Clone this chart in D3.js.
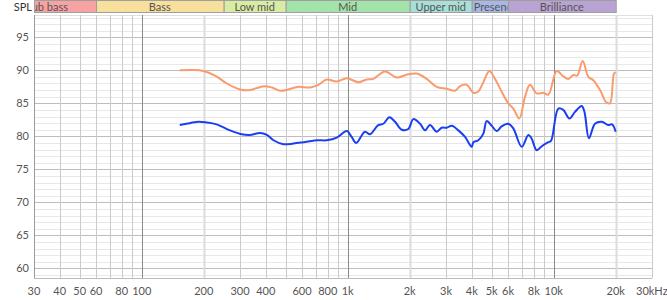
<!DOCTYPE html>
<html>
<head>
<meta charset="UTF-8">
<title>SPL</title>
<script src="https://d3js.org/d3.v7.min.js"></script>
<style>
  body { margin: 0; background: #fff; }
  svg text { font-family: Lato, "Open Sans", sans-serif; }
</style>
</head>
<body>
<div id="chart"></div>
<script>
// frequency bands across the top
const bandNames = ["Sub bass", "Bass", "Low mid", "Mid", "Upper mid", "Presence", "Brilliance"];
const bandEdges = [20, 60, 250, 500, 2000, 4000, 6000, 20000];
const bandColors = ["#f7a3a3", "#f7df9c", "#d9eca3", "#a3e2a8", "#a8e0d8", "#a9b7e6", "#b9a3d3"];

const xTicks = [30, 40, 50, 60, 80, 100, 200, 300, 400, 600, 800, 1000, 2000, 3000, 4000, 5000, 6000, 8000, 10000, 20000, 30000];
const xTickLabels = ["30", "40", "50", "60", "80", "100", "200", "300", "400", "600", "800", "1k", "2k", "3k", "4k", "5k", "6k", "8k", "10k", "20k", "30kHz"];
const yTicks = [60, 65, 70, 75, 80, 85, 90, 95];

// upper (orange) curve
const orangeFreq = [153, 178, 199, 227, 259, 300, 335, 361, 396, 428, 469, 515, 576, 656, 720, 791, 885, 990, 1125, 1236, 1331, 1517, 1729, 1968, 2162, 2418, 2704, 3024, 3318, 3510, 3785, 4074, 4305, 4555, 4869, 5187, 5585, 6018, 6365, 6809, 7254, 7669, 8268, 8900, 9417, 10338, 11125, 11773, 12450, 13000, 13830, 14730, 15570, 16788, 17940, 18750, 19620, 20000];
const orangeDb = [90.0, 90.05, 89.9, 89.2, 88.0, 87.1, 87.0, 87.3, 87.6, 87.4, 86.9, 87.1, 87.5, 87.4, 87.8, 88.6, 88.3, 88.8, 88.2, 88.6, 88.7, 89.8, 88.9, 89.4, 89.5, 88.7, 87.5, 87.2, 86.9, 87.6, 87.8, 86.6, 86.8, 88.2, 89.9, 88.7, 86.8, 85.0, 84.2, 82.7, 86.0, 87.8, 86.5, 86.6, 86.3, 89.9, 89.1, 88.7, 89.3, 89.2, 91.4, 89.0, 88.5, 87.0, 85.2, 85.0, 89.5, 89.7];

// lower (blue) curve
const blueFreq = [153, 165, 188, 206, 231, 268, 306, 335, 375, 405, 436, 487, 545, 609, 706, 791, 885, 990, 1045, 1100, 1212, 1283, 1407, 1490, 1594, 1697, 1829, 1968, 2083, 2244, 2373, 2509, 2704, 2859, 3024, 3197, 3446, 3712, 4000, 4074, 4305, 4555, 4725, 4999, 5285, 5585, 6018, 6365, 6992, 7532, 7800, 8268, 8747, 9417, 9700, 10529, 11125, 11920, 12690, 13680, 14100, 14830, 15860, 17100, 18400, 19200, 20000];
const blueDb = [81.7, 81.9, 82.2, 82.1, 81.8, 80.9, 80.3, 80.2, 80.5, 80.2, 79.4, 78.8, 78.9, 79.1, 79.4, 79.4, 79.8, 80.8, 79.9, 79.0, 80.7, 80.3, 81.7, 81.9, 82.9, 82.2, 81.0, 81.1, 82.6, 81.9, 80.9, 81.7, 80.7, 81.3, 81.3, 81.6, 80.9, 79.9, 78.4, 79.1, 79.4, 80.4, 82.3, 81.6, 80.8, 81.5, 81.9, 81.2, 78.4, 80.2, 79.7, 77.9, 78.5, 79.1, 79.3, 84.2, 84.0, 82.7, 83.7, 84.6, 83.7, 79.7, 81.9, 82.2, 81.7, 81.8, 80.7];

const W = 667, H = 300;
const plotLeft = 34, plotRight = 652, plotTop = 15, plotBottom = 278;

const svg = d3.select("#chart").append("svg")
  .attr("width", W).attr("height", H);

const x = d3.scaleLog().domain([30, 30000]).range([plotLeft, plotRight]);
const y = d3.scaleLinear().domain([60, 95]).range([268.3, 37.3]);

// horizontal grid, 1 dB steps
const yMin = Math.ceil(y.invert(plotBottom)), yMax = Math.floor(y.invert(plotTop));
const hLines = d3.range(yMin, yMax + 1);
svg.append("g").selectAll("line").data(hLines).enter().append("line")
  .attr("x1", plotLeft).attr("x2", plotRight)
  .attr("y1", d => Math.round(y(d)) + 0.5).attr("y2", d => Math.round(y(d)) + 0.5)
  .attr("stroke", d => d % 5 === 0 ? "#bdbdbd" : "#e8e8e8");
svg.append("line").attr("x1", plotLeft).attr("x2", plotRight)
  .attr("y1", plotTop + 0.5).attr("y2", plotTop + 0.5).attr("stroke", "#e0e0e0");

// vertical grid
const vLines = [];
for (let dec = 10; dec <= 10000; dec *= 10) {
  for (let k = 1; k <= 9; k++) {
    const f = dec * k;
    if (f >= 30 && f <= 30000) vLines.push(f);
  }
}
vLines.push(30000);
const mant = d => d / Math.pow(10, Math.floor(Math.log10(d) + 1e-9));
svg.append("g").selectAll("line").data(vLines).enter().append("line")
  .attr("x1", d => Math.round(x(d)) + 0.5).attr("x2", d => Math.round(x(d)) + 0.5)
  .attr("y1", plotTop).attr("y2", plotBottom)
  .attr("stroke", d => {
    const m = mant(d);
    if (Math.abs(m - 1) < 1e-6) return "#8a8a8a";
    if (Math.abs(m - 2) < 1e-6) return "#dcdcdc";
    return "#cacaca";
  })
  .attr("stroke-width", d => Math.abs(mant(d) - 2) < 1e-6 ? 2 : 1);

// axis lines
svg.append("line").attr("x1", plotLeft + 0.5).attr("x2", plotLeft + 0.5)
  .attr("y1", plotTop).attr("y2", plotBottom).attr("stroke", "#9a9a9a");
svg.append("line").attr("x1", plotLeft).attr("x2", plotRight)
  .attr("y1", plotBottom + 0.5).attr("y2", plotBottom + 0.5).attr("stroke", "#bdbdbd");

// y labels
svg.append("g").selectAll("text").data(yTicks).enter().append("text")
  .attr("x", 29).attr("y", d => y(d) + 4)
  .attr("text-anchor", "end").attr("font-size", 11).attr("fill", "#555")
  .text(d => d);

// x labels
svg.append("g").selectAll("text").data(xTicks).enter().append("text")
  .attr("x", (d, i) => i === xTicks.length - 1 ? x(d) - 2 : x(d))
  .attr("y", 295)
  .attr("text-anchor", (d, i) => i === xTicks.length - 1 ? "start" : "middle")
  .attr("font-size", 11).attr("fill", "#555")
  .text((d, i) => xTickLabels[i]);
// the last label starts just left of 30k
svg.selectAll("text").filter(function () { return this.textContent === "30kHz"; })
  .attr("x", x(30000) - 16);

// bands, each label clipped to its own box
const bands = bandNames.map((n, i) => ({ name: n, f0: bandEdges[i], f1: bandEdges[i + 1], color: bandColors[i], i: i }));
const defs = svg.append("defs");
bands.forEach(d => {
  const x0 = Math.max(x(d.f0), plotLeft), x1 = Math.min(x(d.f1), plotRight);
  defs.append("clipPath").attr("id", "band" + d.i)
    .append("rect").attr("x", x0 + 1).attr("y", 0).attr("width", x1 - x0 - 1.5).attr("height", 13);
});
const bg = svg.append("g");
bg.selectAll("rect").data(bands).enter().append("rect")
  .attr("x", d => Math.max(x(d.f0), plotLeft) + 0.5).attr("y", 0.5)
  .attr("width", d => Math.min(x(d.f1), plotRight) - Math.max(x(d.f0), plotLeft))
  .attr("height", 12)
  .attr("fill", d => d.color).attr("stroke", "#9e9e9e");
bg.selectAll("text").data(bands).enter().append("text")
  .attr("clip-path", d => "url(#band" + d.i + ")")
  .attr("y", 10.5).attr("font-size", 11).attr("fill", "#555")
  .text(d => d.name)
  .attr("x", function (d) {
    const w = this.getComputedTextLength();
    const c = (x(d.f0) + x(d.f1)) / 2;
    return Math.max(x(d.f0) + 2, c - w / 2);
  });

svg.append("text").attr("x", 32).attr("y", 11).attr("text-anchor", "end")
  .attr("font-size", 11).attr("fill", "#333").text("SPL");

// curves
const line = d3.line()
  .x(d => x(d[0])).y(d => y(d[1]))
  .curve(d3.curveCatmullRom.alpha(0.5));

svg.append("path")
  .datum(orangeFreq.map((f, i) => [f, orangeDb[i]]))
  .attr("d", line).attr("fill", "none")
  .attr("stroke", "#f99b6c").attr("stroke-width", 2);

svg.append("path")
  .datum(blueFreq.map((f, i) => [f, blueDb[i]]))
  .attr("d", line).attr("fill", "none")
  .attr("stroke", "#1a3ff2").attr("stroke-width", 2);
</script>
</body>
</html>
